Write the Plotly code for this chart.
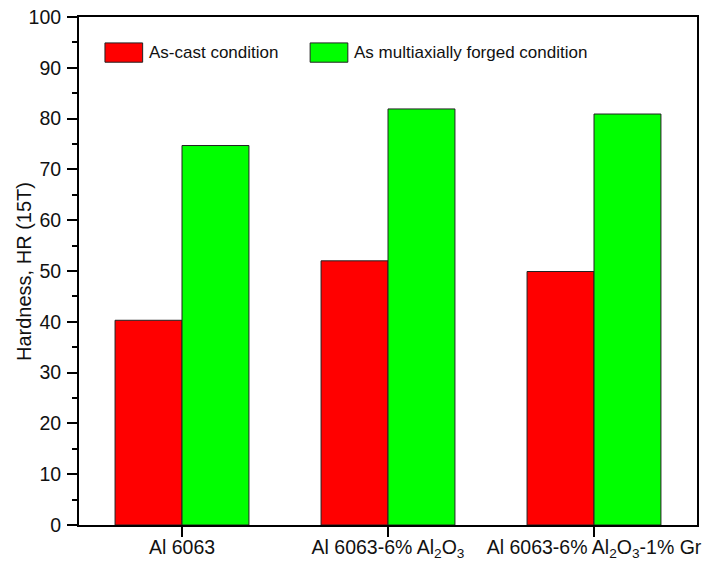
import plotly.graph_objects as go

# Hardness data (HR 15T) for each alloy
categories = [
    "Al 6063",
    "Al 6063-6% Al<sub>2</sub>O<sub>3</sub>",
    "Al 6063-6% Al<sub>2</sub>O<sub>3</sub>-1% Gr",
]
as_cast = [40.3, 52.0, 49.9]
forged = [74.7, 81.9, 80.9]
series_names = ["As-cast condition", "As multiaxially forged condition"]
series_colors = ["#FF0000", "#00FF00"]

FONT = "Liberation Sans, Arial, sans-serif"

fig = go.Figure()
for name, vals, col in zip(series_names, [as_cast, forged], series_colors):
    fig.add_trace(go.Bar(
        x=categories, y=vals, name=name,
        marker=dict(color=col, line=dict(color="#222222", width=1)),
        showlegend=False,
    ))

# Legend drawn as boxed patches with labels inside the plot area
legend_items = [(0.042, series_names[0], series_colors[0]),
                (0.374, series_names[1], series_colors[1])]
for x0, name, col in legend_items:
    fig.add_shape(type="rect", xref="paper", yref="paper",
                  x0=x0, x1=x0 + 0.061, y0=0.911, y1=0.949,
                  fillcolor=col, line=dict(color="#222222", width=1))
    fig.add_annotation(xref="paper", yref="paper", x=x0 + 0.068, y=0.930,
                       text=name, showarrow=False, xanchor="left",
                       yanchor="middle", font=dict(size=17, color="#111111", family=FONT))

# Y-axis title
fig.add_annotation(xref="paper", yref="paper", x=-0.089, y=0.5,
                   text="Hardness, HR (15T)", textangle=-90, showarrow=False,
                   xanchor="center", yanchor="middle",
                   font=dict(size=20, color="#111111", family=FONT))

fig.update_layout(
    width=726, height=565,
    margin=dict(l=79, r=29, t=17, b=40),
    paper_bgcolor="white", plot_bgcolor="white",
    barmode="group", bargap=0.35, bargroupgap=0,
    font=dict(family=FONT, size=16, color="#111111"),
    xaxis=dict(
        range=[-0.5, 2.5], showgrid=False, automargin=False,
        showline=True, linecolor="black", linewidth=2, mirror=True,
        ticks="outside", ticklen=10, tickwidth=2, tickcolor="black",
        tickfont=dict(size=19.5, family=FONT), ticklabelstandoff=-6,
    ),
    yaxis=dict(
        range=[0, 100], dtick=10, showgrid=False, zeroline=False, automargin=False,
        showline=True, linecolor="black", linewidth=2, mirror=True,
        ticks="outside", ticklen=10, tickwidth=2, tickcolor="black",
        tickfont=dict(size=19.5, family=FONT), ticklabelstandoff=2,
        minor=dict(dtick=5, ticks="outside", ticklen=5, tickwidth=2, tickcolor="black"),
    ),
)

fig.write_html("out.html")
